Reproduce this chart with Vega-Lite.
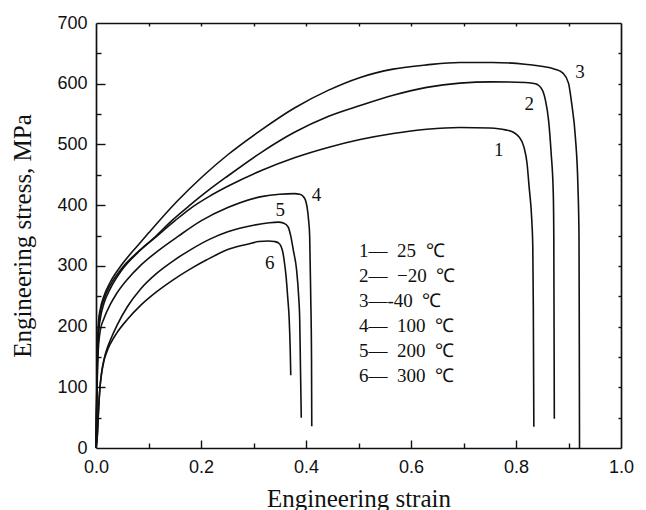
{
  "$schema": "https://vega.github.io/schema/vega-lite/v6.json",
  "width": 525,
  "height": 425,
  "autosize": {"type": "none"},
  "padding": {"left": 96, "top": 23, "right": 25, "bottom": 62},
  "background": "white",
  "config": {
    "view": {"stroke": null},
    "axis": {
      "labelFont": "Liberation Sans",
      "labelFontSize": 18,
      "labelColor": "#111",
      "titleFont": "Liberation Serif",
      "titleFontSize": 25,
      "titleFontWeight": "normal",
      "titleColor": "#111",
      "domainColor": "#111",
      "domainWidth": 1.7,
      "tickColor": "#111",
      "tickWidth": 1.4,
      "grid": false,
      "labelFlush": false
    }
  },
  "datasets": {
    "curves": [
      {"c": "1", "x": 0, "y": 0}, {"c": "1", "x": 0.0015, "y": 80}, {"c": "1", "x": 0.003, "y": 150}, {"c": "1", "x": 0.005, "y": 190}, {"c": "1", "x": 0.008, "y": 212}, {"c": "1", "x": 0.015, "y": 238}, {"c": "1", "x": 0.027, "y": 262}, {"c": "1", "x": 0.05, "y": 294}, {"c": "1", "x": 0.08, "y": 322}, {"c": "1", "x": 0.116, "y": 349}, {"c": "1", "x": 0.15, "y": 374}, {"c": "1", "x": 0.179, "y": 394}, {"c": "1", "x": 0.215, "y": 414}, {"c": "1", "x": 0.251, "y": 431}, {"c": "1", "x": 0.315, "y": 457}, {"c": "1", "x": 0.378, "y": 478}, {"c": "1", "x": 0.442, "y": 495}, {"c": "1", "x": 0.503, "y": 508}, {"c": "1", "x": 0.566, "y": 518}, {"c": "1", "x": 0.63, "y": 525}, {"c": "1", "x": 0.693, "y": 528}, {"c": "1", "x": 0.75, "y": 527}, {"c": "1", "x": 0.78, "y": 524}, {"c": "1", "x": 0.795, "y": 520}, {"c": "1", "x": 0.805, "y": 513}, {"c": "1", "x": 0.815, "y": 496}, {"c": "1", "x": 0.821, "y": 469}, {"c": "1", "x": 0.825, "y": 430}, {"c": "1", "x": 0.83, "y": 376}, {"c": "1", "x": 0.832, "y": 330}, {"c": "1", "x": 0.833, "y": 230}, {"c": "1", "x": 0.8335, "y": 130}, {"c": "1", "x": 0.834, "y": 35},
      {"c": "2", "x": 0, "y": 0}, {"c": "2", "x": 0.0015, "y": 90}, {"c": "2", "x": 0.003, "y": 160}, {"c": "2", "x": 0.005, "y": 200}, {"c": "2", "x": 0.007, "y": 218}, {"c": "2", "x": 0.015, "y": 245}, {"c": "2", "x": 0.027, "y": 268}, {"c": "2", "x": 0.05, "y": 297}, {"c": "2", "x": 0.08, "y": 323}, {"c": "2", "x": 0.109, "y": 345}, {"c": "2", "x": 0.145, "y": 375}, {"c": "2", "x": 0.179, "y": 400}, {"c": "2", "x": 0.215, "y": 425}, {"c": "2", "x": 0.251, "y": 448}, {"c": "2", "x": 0.315, "y": 487}, {"c": "2", "x": 0.378, "y": 520}, {"c": "2", "x": 0.442, "y": 546}, {"c": "2", "x": 0.503, "y": 564}, {"c": "2", "x": 0.566, "y": 581}, {"c": "2", "x": 0.63, "y": 594}, {"c": "2", "x": 0.693, "y": 601}, {"c": "2", "x": 0.754, "y": 603}, {"c": "2", "x": 0.818, "y": 602}, {"c": "2", "x": 0.837, "y": 600}, {"c": "2", "x": 0.85, "y": 590}, {"c": "2", "x": 0.856, "y": 573}, {"c": "2", "x": 0.862, "y": 540}, {"c": "2", "x": 0.867, "y": 485}, {"c": "2", "x": 0.871, "y": 420}, {"c": "2", "x": 0.872, "y": 349}, {"c": "2", "x": 0.8725, "y": 200}, {"c": "2", "x": 0.873, "y": 48},
      {"c": "3", "x": 0, "y": 0}, {"c": "3", "x": 0.0015, "y": 100}, {"c": "3", "x": 0.003, "y": 170}, {"c": "3", "x": 0.005, "y": 210}, {"c": "3", "x": 0.008, "y": 228}, {"c": "3", "x": 0.015, "y": 250}, {"c": "3", "x": 0.027, "y": 273}, {"c": "3", "x": 0.05, "y": 303}, {"c": "3", "x": 0.08, "y": 334}, {"c": "3", "x": 0.1, "y": 354}, {"c": "3", "x": 0.154, "y": 406}, {"c": "3", "x": 0.204, "y": 448}, {"c": "3", "x": 0.251, "y": 483}, {"c": "3", "x": 0.315, "y": 524}, {"c": "3", "x": 0.378, "y": 560}, {"c": "3", "x": 0.442, "y": 589}, {"c": "3", "x": 0.502, "y": 610}, {"c": "3", "x": 0.566, "y": 624}, {"c": "3", "x": 0.63, "y": 631}, {"c": "3", "x": 0.693, "y": 635}, {"c": "3", "x": 0.754, "y": 635}, {"c": "3", "x": 0.817, "y": 632}, {"c": "3", "x": 0.874, "y": 624}, {"c": "3", "x": 0.89, "y": 617}, {"c": "3", "x": 0.9, "y": 601}, {"c": "3", "x": 0.906, "y": 568}, {"c": "3", "x": 0.913, "y": 513}, {"c": "3", "x": 0.918, "y": 430}, {"c": "3", "x": 0.92, "y": 349}, {"c": "3", "x": 0.9205, "y": 200}, {"c": "3", "x": 0.921, "y": 0},
      {"c": "4", "x": 0, "y": 0}, {"c": "4", "x": 0.0015, "y": 70}, {"c": "4", "x": 0.003, "y": 135}, {"c": "4", "x": 0.005, "y": 170}, {"c": "4", "x": 0.008, "y": 193}, {"c": "4", "x": 0.015, "y": 213}, {"c": "4", "x": 0.027, "y": 236}, {"c": "4", "x": 0.039, "y": 254}, {"c": "4", "x": 0.06, "y": 278}, {"c": "4", "x": 0.084, "y": 300}, {"c": "4", "x": 0.12, "y": 326}, {"c": "4", "x": 0.157, "y": 349}, {"c": "4", "x": 0.2, "y": 374}, {"c": "4", "x": 0.251, "y": 396}, {"c": "4", "x": 0.315, "y": 414}, {"c": "4", "x": 0.35, "y": 418}, {"c": "4", "x": 0.378, "y": 419}, {"c": "4", "x": 0.388, "y": 418}, {"c": "4", "x": 0.394, "y": 415}, {"c": "4", "x": 0.399, "y": 408}, {"c": "4", "x": 0.402, "y": 397}, {"c": "4", "x": 0.405, "y": 375}, {"c": "4", "x": 0.407, "y": 349}, {"c": "4", "x": 0.409, "y": 250}, {"c": "4", "x": 0.4105, "y": 150}, {"c": "4", "x": 0.411, "y": 36},
      {"c": "5", "x": 0, "y": 0}, {"c": "5", "x": 0.0025, "y": 20}, {"c": "5", "x": 0.005, "y": 65}, {"c": "5", "x": 0.0076, "y": 100}, {"c": "5", "x": 0.011, "y": 126}, {"c": "5", "x": 0.015, "y": 145}, {"c": "5", "x": 0.02, "y": 161}, {"c": "5", "x": 0.027, "y": 177}, {"c": "5", "x": 0.04, "y": 202}, {"c": "5", "x": 0.06, "y": 233}, {"c": "5", "x": 0.085, "y": 262}, {"c": "5", "x": 0.116, "y": 288}, {"c": "5", "x": 0.15, "y": 310}, {"c": "5", "x": 0.179, "y": 326}, {"c": "5", "x": 0.217, "y": 344}, {"c": "5", "x": 0.251, "y": 356}, {"c": "5", "x": 0.3, "y": 367}, {"c": "5", "x": 0.33, "y": 371}, {"c": "5", "x": 0.347, "y": 372}, {"c": "5", "x": 0.358, "y": 370}, {"c": "5", "x": 0.366, "y": 364}, {"c": "5", "x": 0.371, "y": 349}, {"c": "5", "x": 0.376, "y": 325}, {"c": "5", "x": 0.382, "y": 294}, {"c": "5", "x": 0.386, "y": 250}, {"c": "5", "x": 0.388, "y": 212}, {"c": "5", "x": 0.3895, "y": 130}, {"c": "5", "x": 0.391, "y": 50},
      {"c": "6", "x": 0, "y": 0}, {"c": "6", "x": 0.0025, "y": 20}, {"c": "6", "x": 0.005, "y": 65}, {"c": "6", "x": 0.0076, "y": 100}, {"c": "6", "x": 0.011, "y": 125}, {"c": "6", "x": 0.015, "y": 143}, {"c": "6", "x": 0.02, "y": 157}, {"c": "6", "x": 0.027, "y": 171}, {"c": "6", "x": 0.04, "y": 190}, {"c": "6", "x": 0.06, "y": 212}, {"c": "6", "x": 0.084, "y": 234}, {"c": "6", "x": 0.115, "y": 257}, {"c": "6", "x": 0.147, "y": 277}, {"c": "6", "x": 0.18, "y": 295}, {"c": "6", "x": 0.211, "y": 310}, {"c": "6", "x": 0.255, "y": 328}, {"c": "6", "x": 0.29, "y": 336}, {"c": "6", "x": 0.31, "y": 340}, {"c": "6", "x": 0.328, "y": 341}, {"c": "6", "x": 0.34, "y": 340}, {"c": "6", "x": 0.347, "y": 338}, {"c": "6", "x": 0.352, "y": 333}, {"c": "6", "x": 0.356, "y": 322}, {"c": "6", "x": 0.359, "y": 305}, {"c": "6", "x": 0.362, "y": 283}, {"c": "6", "x": 0.365, "y": 250}, {"c": "6", "x": 0.368, "y": 212}, {"c": "6", "x": 0.37, "y": 160}, {"c": "6", "x": 0.371, "y": 120}
    ],
    "labels": [
      {"t": "1", "x": 0.767, "y": 491},
      {"t": "2", "x": 0.825, "y": 567},
      {"t": "3", "x": 0.922, "y": 620},
      {"t": "4", "x": 0.42, "y": 417},
      {"t": "5", "x": 0.351, "y": 392},
      {"t": "6", "x": 0.331, "y": 305}
    ],
    "legend": [
      {"t": "1—\u00a0\u00a025\u00a0\u00a0℃", "x": 0.501, "y": 324.5},
      {"t": "2—\u00a0\u00a0−20\u00a0\u00a0℃", "x": 0.501, "y": 283.3},
      {"t": "3—-40\u00a0\u00a0℃", "x": 0.501, "y": 242.1},
      {"t": "4—\u00a0\u00a0100\u00a0\u00a0℃", "x": 0.501, "y": 201},
      {"t": "5—\u00a0\u00a0200\u00a0\u00a0℃", "x": 0.501, "y": 159.8},
      {"t": "6—\u00a0\u00a0300\u00a0\u00a0℃", "x": 0.501, "y": 118.6}
    ]
  },
  "resolve": {"axis": {"x": "independent", "y": "independent"}},
  "layer": [
    {
      "data": {"name": "curves"},
      "mark": {"type": "line", "color": "#111", "strokeWidth": 1.6, "interpolate": "monotone"},
      "encoding": {
        "x": {"field": "x", "type": "quantitative", "scale": {"domain": [0, 1], "nice": false},
          "axis": {"orient": "bottom", "values": [0, 0.2, 0.4, 0.6, 0.8, 1], "format": ".1f", "ticks": false, "labelPadding": 10, "title": "Engineering strain", "titleY": 58, "titleBaseline": "alphabetic"}},
        "y": {"field": "y", "type": "quantitative", "scale": {"domain": [0, 700], "nice": false},
          "axis": {"orient": "left", "values": [0, 100, 200, 300, 400, 500, 600, 700], "ticks": false, "labelPadding": 9, "title": "Engineering stress, MPa", "titleX": -66, "titleBaseline": "alphabetic"}},
        "detail": {"field": "c"}
      }
    },
    {
      "data": {"name": "labels"},
      "mark": {"type": "text", "font": "Liberation Serif", "fontSize": 19, "color": "#111", "align": "center", "baseline": "middle"},
      "encoding": {
        "x": {"field": "x", "type": "quantitative",
          "axis": {"orient": "bottom", "values": [0.2, 0.4, 0.6, 0.8], "labels": false, "domain": false, "tickSize": -8, "title": null}},
        "y": {"field": "y", "type": "quantitative",
          "axis": {"orient": "left", "values": [100, 200, 300, 400, 500, 600], "labels": false, "domain": false, "tickSize": -9, "title": null}},
        "text": {"field": "t"}
      }
    },
    {
      "data": {"name": "legend"},
      "mark": {"type": "text", "font": "Liberation Serif", "fontSize": 19, "color": "#111", "align": "left", "baseline": "middle"},
      "encoding": {
        "x": {"field": "x", "type": "quantitative",
          "axis": {"orient": "bottom", "values": [0.1, 0.3, 0.5, 0.7, 0.9], "labels": false, "domain": false, "tickSize": -5, "title": null}},
        "y": {"field": "y", "type": "quantitative",
          "axis": {"orient": "left", "values": [50, 150, 250, 350, 450, 550, 650], "labels": false, "domain": false, "tickSize": -5, "title": null}},
        "text": {"field": "t"}
      }
    },
    {
      "data": {"name": "labels"},
      "mark": {"type": "point", "opacity": 0},
      "encoding": {
        "x": {"field": "x", "type": "quantitative",
          "axis": {"orient": "top", "values": [0.1, 0.2, 0.3, 0.4, 0.5, 0.6, 0.7, 0.8, 0.9], "labels": false, "tickSize": -3, "title": null}},
        "y": {"field": "y", "type": "quantitative",
          "axis": {"orient": "right", "values": [50, 100, 150, 200, 250, 300, 350, 400, 450, 500, 550, 600, 650], "labels": false, "tickSize": -3, "title": null}}
      }
    }
  ]
}
